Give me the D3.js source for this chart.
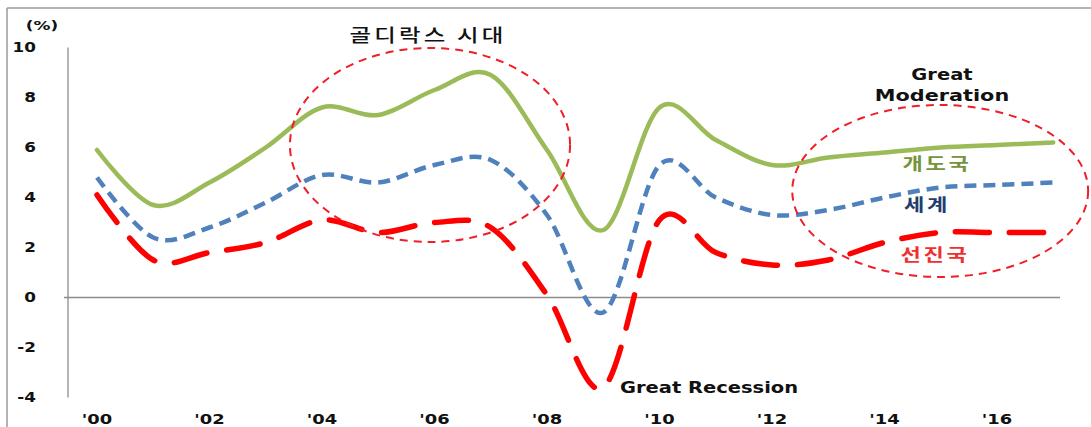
<!DOCTYPE html>
<html><head><meta charset="utf-8">
<script src="https://cdn.jsdelivr.net/npm/d3@7"></script>
<style>
html,body{margin:0;padding:0;background:#fff;}
svg{display:block;}
</style></head>
<body>
<svg id="chart" width="1091" height="427"></svg>
<script>
// ---- data ----
const years = [2000,2001,2002,2003,2004,2005,2006,2007,2008,2009,2010,2011,2012,2013,2014,2015,2016,2017];
const developing = [5.9,3.7,4.6,6.0,7.6,7.3,8.3,8.9,5.9,2.7,7.6,6.3,5.3,5.6,5.8,6.0,6.1,6.2]; // 개도국
const world      = [4.8,2.4,2.8,3.8,4.9,4.6,5.3,5.5,3.3,-0.6,5.3,4.0,3.3,3.5,4.0,4.4,4.5,4.6]; // 세계
const advanced   = [4.1,1.5,1.8,2.2,3.1,2.6,3.0,2.8,0.1,-3.6,3.1,1.8,1.3,1.5,2.2,2.6,2.6,2.6]; // 선진국
const yTicks = [10,8,6,4,2,0,-2,-4];
const xTicks = [2000,2002,2004,2006,2008,2010,2012,2014,2016];
const seriesNames = ["개도국","세계","선진국"];

const svg = d3.select("#chart");
const x = d3.scaleLinear().domain([2000,2016]).range([97,997]);
const y = d3.scaleLinear().domain([-4,10]).range([397.5,47.5]);

const SX = 1.28;
function label(px, py, str, o){
  const t = svg.append("text")
    .attr("transform", `translate(${px},${py}) scale(${o.sx||SX},1)`)
    .attr("font-family", o.family || "'DejaVu Sans', Verdana, sans-serif")
    .attr("font-size", o.size || 14)
    .attr("font-weight", o.weight || "bold")
    .attr("fill", o.color || "#111")
    .attr("text-anchor", o.anchor || "middle")
    .text(str);
  if (o.ls) t.attr("letter-spacing", o.ls);
  if (o.baseline) t.attr("dominant-baseline", o.baseline);
  return t;
}

// frame
svg.append("line").attr("x1",7).attr("x2",1091).attr("y1",8).attr("y2",8).attr("stroke","#9a9a9a").attr("stroke-width",1.5);
svg.append("line").attr("x1",7).attr("x2",7).attr("y1",8).attr("y2",427).attr("stroke","#9a9a9a").attr("stroke-width",1.5);

// y axis line
svg.append("line").attr("x1",68).attr("x2",68).attr("y1",y(10)).attr("y2",y(-4)).attr("stroke","#8c8c8c").attr("stroke-width",1.3);
// zero line
svg.append("line").attr("x1",64).attr("x2",1060).attr("y1",y(0)).attr("y2",y(0)).attr("stroke","#8c8c8c").attr("stroke-width",1.3);

// y tick labels
yTicks.forEach(v => label(36, y(v), String(v), {anchor:"end", size:14, baseline:"central", sx:1.2}));
label(42, 30, "(%)", {size:13, sx:1.3});
// x tick labels
xTicks.forEach(v => label(x(v), 424, "'" + String(v).slice(2), {size:14}));

// lines
const curve = d3.curveCardinal.tension(0);
function drawLine(vals, color, width, dash, cap){
  const gen = d3.line().x((d,i)=>x(years[i])).y(d=>y(d)).curve(curve);
  const p = svg.append("path").datum(vals).attr("d", gen)
    .attr("fill","none").attr("stroke",color).attr("stroke-width",width)
    .attr("stroke-linecap", cap || "butt");
  if (dash) p.attr("stroke-dasharray", dash);
}
drawLine(developing, "#9BBB59", 4.5, null, "round");
drawLine(world, "#4F81BD", 4.5, "12,7");
drawLine(advanced, "#FF0000", 5.5, "34,20", "round");

// annotation ellipses
function ellipse(x0,x1,v0,v1){
  const cx=(x(x0)+x(x1))/2, cy=(y(v0)+y(v1))/2;
  svg.append("ellipse").attr("cx",cx).attr("cy",cy)
    .attr("rx",Math.abs(x(x1)-x(x0))/2).attr("ry",Math.abs(y(v1)-y(v0))/2)
    .attr("fill","none").attr("stroke","#F01E28").attr("stroke-width",2).attr("stroke-dasharray","8,6");
}
ellipse(2003.43, 2008.41, 2.22, 9.98);
ellipse(2012.36, 2017.62, 0.82, 7.7);

// annotations
label(428, 42, "골디락스 시대", {family:"'Noto Sans CJK KR', sans-serif", size:18, weight:"500", color:"#111", ls:2.5, sx:1.3});
label(942, 80, "Great", {size:15, sx:1.3});
label(942, 101, "Moderation", {size:16, sx:1.3});
label(620, 393, "Great Recession", {size:15, anchor:"start", sx:1.3});
label(937, 170, seriesNames[0], {family:"'Noto Sans CJK KR', sans-serif", size:17, weight:"bold", color:"#77933C", ls:2, sx:1.3});
label(927, 211, seriesNames[1], {family:"'Noto Sans CJK KR', sans-serif", size:17, weight:"bold", color:"#1F3E6E", ls:2, sx:1.3});
label(935, 261, seriesNames[2], {family:"'Noto Sans CJK KR', sans-serif", size:17, weight:"bold", color:"#F0302E", ls:2, sx:1.3});
</script>
</body></html>
